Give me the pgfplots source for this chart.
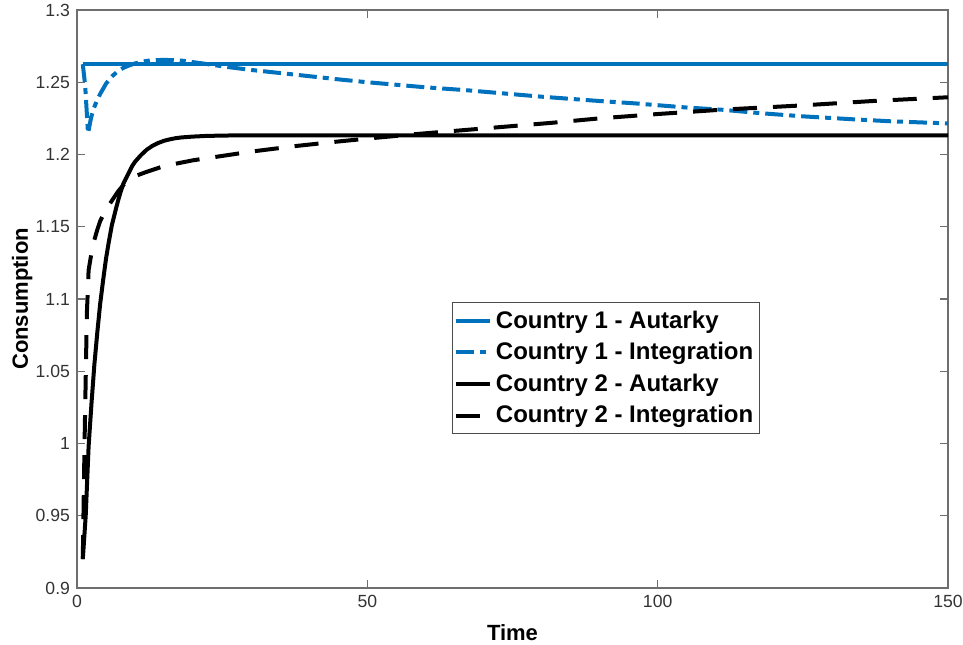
\documentclass[border=0pt]{standalone}
\usepackage{pgfplots}
\pgfplotsset{compat=1.18}
\usepackage{fontspec}
\setmainfont{Liberation Sans}
\definecolor{mblue}{RGB}{0,114,189}
\definecolor{axgray}{RGB}{110,110,110}
\begin{document}
\begin{tikzpicture}
\begin{axis}[
  width=435.5pt, height=289pt, scale only axis,
  xmin=0, xmax=150, ymin=0.9, ymax=1.3,
  xtick={0,50,100,150},
  ytick={0.9,0.95,1,1.05,1.1,1.15,1.2,1.25,1.3},
  yticklabels={0.9,0.95,1,1.05,1.1,1.15,1.2,1.25,1.3},
  tick align=inside, major tick length=4pt,
  axis line style={axgray, line width=0.6pt},
  tick style={axgray, line width=0.6pt},
  ticklabel style={font=\fontsize{8.8}{10}\selectfont, text=black!80},
  /pgf/number format/assume math mode=true,
  xlabel={Time}, ylabel={Consumption},
  label style={font=\fontsize{11}{13}\selectfont\bfseries},
  xlabel style={at={(axis description cs:0.5,-0.078)}, anchor=center},
  ylabel style={at={(axis description cs:-0.063,0.5)}, anchor=center},
  legend style={at={(0.43,0.266)}, anchor=south west,
    font=\fontsize{12}{16.5}\selectfont\bfseries, draw=black!70,
    inner xsep=1pt, inner ysep=2pt, row sep=1.6pt},
  legend cell align=left,
  legend image code/.code={\draw[#1] (0pt,0pt) -- (17pt,0pt);},
]
\addplot[mblue, line width=2pt] coordinates {(1,1.2625) (150,1.2625)};
\addlegendentry{Country 1 - Autarky}
\addplot[mblue, line width=2pt, dash pattern=on 9pt off 3pt on 3pt off 3pt] coordinates {
(1,1.2625)(1.4,1.248)(1.9,1.2146)(2.4,1.225)(2.8,1.231)(3.4,1.237)(4,1.242)(5,1.249)(6,1.254)(7,1.2575)(8,1.260)
(9,1.2617)(10,1.263)(11,1.264)(12,1.2648)(13,1.2652)(15,1.2655)(18,1.265)(22,1.2628)(26,1.2605)(30,1.2585)(37,1.2555)
(45,1.252)(50,1.250)(60,1.2465)(67,1.2445)(80,1.240)(90,1.237)(96,1.2354)(105,1.2325)
(111,1.231)(118,1.2285)(125,1.2264)(133,1.2245)(140,1.223)(150,1.2215)};
\addlegendentry{Country 1 - Integration}
\addplot[black, line width=2pt] coordinates {
(1,0.92)(1.5,0.95)(2,0.998)(2.5,1.028)(3,1.055)(3.5,1.077)(4,1.097)(4.5,1.113)(5,1.128)(5.5,1.140)(6,1.151)(6.5,1.159)(7,1.167)(7.5,1.174)(8,1.180)(8.5,1.184)(9,1.188)
(9.5,1.192)(10,1.195)(11,1.1995)(12,1.2033)(13,1.206)(14,1.208)(15,1.2095)(16,1.2105)(17,1.2113)(18,1.2118)(20,1.2124)(22,1.2128)(25,1.2131)(30,1.2133)(150,1.2133)};
\addlegendentry{Country 2 - Autarky}
\addplot[black, line width=2pt, dash pattern=on 12pt off 8pt] coordinates {
(1,0.92)(1.3,1.0)(1.7,1.09)(2,1.12)(2.5,1.132)(3,1.141)(3.5,1.148)(4,1.154)(5,1.162)(6,1.168)(7,1.174)(8,1.179)
(9,1.182)(10,1.185)(12,1.188)(15,1.192)(20,1.196)(25,1.199)(30,1.202)(38,1.206)(45,1.209)
(50,1.211)(58,1.214)(70,1.218)(82,1.222)(90,1.225)(100,1.228)(111,1.231)(125,1.234)
(137,1.237)(150,1.2396)};
\addlegendentry{Country 2 - Integration}
\end{axis}
\pgfresetboundingbox
\path ([shift={(-38.5pt,-28.5pt)}]current axis.south west) rectangle ([shift={(7.5pt,5pt)}]current axis.north east);
\end{tikzpicture}
\end{document}
